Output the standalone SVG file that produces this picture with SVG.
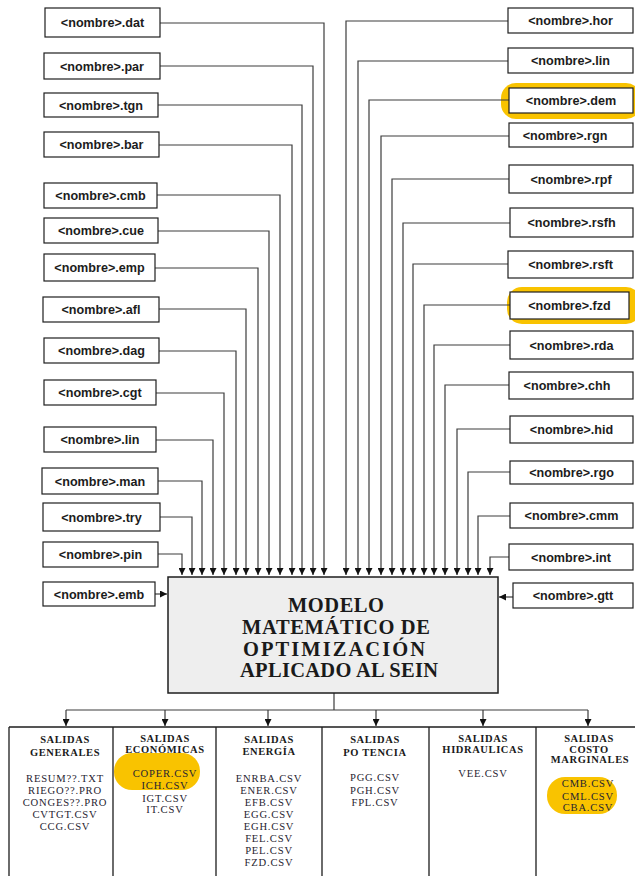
<svg xmlns="http://www.w3.org/2000/svg" width="635" height="876" viewBox="0 0 635 876">
  <style>
    .box { fill: #ffffff; stroke: #1e1e1e; stroke-width: 1.2; }
    .lbl { font-family: "Liberation Sans", Arial, sans-serif; font-weight: bold; font-size: 12.6px; fill: #1c1c1c; text-anchor: middle; }
    .wire { fill: none; stroke: #3c3c3c; stroke-width: 1.2; }
    .hl { fill: #f9c300; }
    .model { fill: #eeeeee; stroke: #1e1e1e; stroke-width: 1.5; }
    .mtxt { font-family: "Liberation Serif", "Times New Roman", serif; font-weight: bold; font-size: 20.5px; fill: #1a1a1a; text-anchor: middle; }
    .frame { fill: none; stroke: #1e1e1e; stroke-width: 1.3; }
    .hd { font-family: "Liberation Serif", "Times New Roman", serif; font-weight: bold; font-size: 10.5px; letter-spacing: 0.6px; fill: #1a1a1a; text-anchor: middle; }
    .it { font-family: "Liberation Serif", "Times New Roman", serif; font-size: 10.6px; letter-spacing: 0.8px; fill: #1f2430; text-anchor: middle; }
  </style>
  <defs>
    <marker id="ah" viewBox="0 0 8 8" refX="8" refY="4" markerWidth="7" markerHeight="7" markerUnits="userSpaceOnUse" orient="auto">
      <path d="M0,0 L8,4 L0,8 Z" fill="#111"/>
    </marker>
  </defs>
  <rect width="635" height="876" fill="#ffffff"/>

  <!-- highlights behind selected files -->
  <rect class="hl" x="501" y="83" width="140" height="36" rx="15"/>
  <rect class="hl" x="507" y="287" width="134" height="37" rx="15"/>
  <rect class="hl" x="114" y="753" width="86" height="37" rx="18"/>
  <rect class="hl" x="547" y="777" width="70" height="37" rx="18"/>

  <!-- connectors -->
  <g id="connectors">
    <path class="wire" marker-end="url(#ah)" d="M160 23 H324 V575"/>
    <path class="wire" marker-end="url(#ah)" d="M160 66 H313 V575"/>
    <path class="wire" marker-end="url(#ah)" d="M158 105 H302 V575"/>
    <path class="wire" marker-end="url(#ah)" d="M159 145 H292 V575"/>
    <path class="wire" marker-end="url(#ah)" d="M157 195 H280 V575"/>
    <path class="wire" marker-end="url(#ah)" d="M158 231 H269 V575"/>
    <path class="wire" marker-end="url(#ah)" d="M155 268 H258 V575"/>
    <path class="wire" marker-end="url(#ah)" d="M159 309 H246 V575"/>
    <path class="wire" marker-end="url(#ah)" d="M159 351 H236 V575"/>
    <path class="wire" marker-end="url(#ah)" d="M156 393 H224 V575"/>
    <path class="wire" marker-end="url(#ah)" d="M156 440 H213 V575"/>
    <path class="wire" marker-end="url(#ah)" d="M158 481 H202 V575"/>
    <path class="wire" marker-end="url(#ah)" d="M160 517 H192 V575"/>
    <path class="wire" marker-end="url(#ah)" d="M158 554 H182 V575"/>
    <path class="wire" marker-end="url(#ah)" d="M155 594 H167"/>

    <path class="wire" marker-end="url(#ah)" d="M508 21 H346 V575"/>
    <path class="wire" marker-end="url(#ah)" d="M508 61 H358 V575"/>
    <path class="wire" marker-end="url(#ah)" d="M509 100 H369 V575"/>
    <path class="wire" marker-end="url(#ah)" d="M509 136 H381 V575"/>
    <path class="wire" marker-end="url(#ah)" d="M509 179 H392 V575"/>
    <path class="wire" marker-end="url(#ah)" d="M510 223 H403 V575"/>
    <path class="wire" marker-end="url(#ah)" d="M508 264 H413 V575"/>
    <path class="wire" marker-end="url(#ah)" d="M510 305 H424 V575"/>
    <path class="wire" marker-end="url(#ah)" d="M510 345 H434 V575"/>
    <path class="wire" marker-end="url(#ah)" d="M509 385 H445 V575"/>
    <path class="wire" marker-end="url(#ah)" d="M510 429 H457 V575"/>
    <path class="wire" marker-end="url(#ah)" d="M510 472 H468 V575"/>
    <path class="wire" marker-end="url(#ah)" d="M510 516 H478 V575"/>
    <path class="wire" marker-end="url(#ah)" d="M509 557 H490 V575"/>
    <path class="wire" marker-end="url(#ah)" d="M513 597 H499"/>

    <path class="wire" d="M334 693 V710 M66 710 H588"/>
    <path class="wire" marker-end="url(#ah)" d="M66 710 V726"/>
    <path class="wire" marker-end="url(#ah)" d="M165 710 V726"/>
    <path class="wire" marker-end="url(#ah)" d="M268 710 V726"/>
    <path class="wire" marker-end="url(#ah)" d="M376 710 V726"/>
    <path class="wire" marker-end="url(#ah)" d="M483 710 V726"/>
    <path class="wire" marker-end="url(#ah)" d="M588 710 V726"/>
  </g>

  <!-- input files, left side -->
  <g id="in-dat"><rect class="box" x="45" y="8" width="115" height="29"/><text class="lbl" x="102.5" y="27">&lt;nombre&gt;.dat</text></g>
  <g id="in-par"><rect class="box" x="44" y="53" width="116" height="26"/><text class="lbl" x="102" y="70.5">&lt;nombre&gt;.par</text></g>
  <g id="in-tgn"><rect class="box" x="44" y="93" width="114" height="24"/><text class="lbl" x="101" y="109.5">&lt;nombre&gt;.tgn</text></g>
  <g id="in-bar"><rect class="box" x="44" y="132" width="115" height="25"/><text class="lbl" x="101.5" y="149">&lt;nombre&gt;.bar</text></g>
  <g id="in-cmb"><rect class="box" x="44" y="183" width="113" height="25"/><text class="lbl" x="100.5" y="200">&lt;nombre&gt;.cmb</text></g>
  <g id="in-cue"><rect class="box" x="44" y="218" width="114" height="25"/><text class="lbl" x="101" y="235">&lt;nombre&gt;.cue</text></g>
  <g id="in-emp"><rect class="box" x="44" y="254" width="111" height="27"/><text class="lbl" x="99.5" y="272">&lt;nombre&gt;.emp</text></g>
  <g id="in-afl"><rect class="box" x="43" y="297" width="116" height="25"/><text class="lbl" x="101" y="314">&lt;nombre&gt;.afl</text></g>
  <g id="in-dag"><rect class="box" x="44" y="338" width="115" height="25"/><text class="lbl" x="101.5" y="355">&lt;nombre&gt;.dag</text></g>
  <g id="in-cgt"><rect class="box" x="44" y="380" width="112" height="25"/><text class="lbl" x="100" y="397">&lt;nombre&gt;.cgt</text></g>
  <g id="in-lin-l"><rect class="box" x="44" y="427" width="112" height="25"/><text class="lbl" x="100" y="444">&lt;nombre&gt;.lin</text></g>
  <g id="in-man"><rect class="box" x="42" y="468" width="116" height="26"/><text class="lbl" x="100" y="485.5">&lt;nombre&gt;.man</text></g>
  <g id="in-try"><rect class="box" x="43" y="503" width="117" height="28"/><text class="lbl" x="101.5" y="521.5">&lt;nombre&gt;.try</text></g>
  <g id="in-pin"><rect class="box" x="43" y="542" width="115" height="25"/><text class="lbl" x="100.5" y="559">&lt;nombre&gt;.pin</text></g>
  <g id="in-emb"><rect class="box" x="43" y="582" width="112" height="24"/><text class="lbl" x="99" y="598.5">&lt;nombre&gt;.emb</text></g>

  <!-- input files, right side -->
  <g id="in-hor"><rect class="box" x="508" y="8" width="125" height="25"/><text class="lbl" x="570.5" y="25">&lt;nombre&gt;.hor</text></g>
  <g id="in-lin-r"><rect class="box" x="508" y="48" width="125" height="25"/><text class="lbl" x="570.5" y="65">&lt;nombre&gt;.lin</text></g>
  <g id="in-dem"><rect class="box" x="509" y="88" width="124" height="25"/><text class="lbl" x="571" y="105">&lt;nombre&gt;.dem</text></g>
  <g id="in-rgn"><rect class="box" x="509" y="123" width="124" height="24"/><text class="lbl" x="565" y="139.5">&lt;nombre&gt;.rgn</text></g>
  <g id="in-rpf"><rect class="box" x="509" y="165" width="124" height="28"/><text class="lbl" x="571" y="183.5">&lt;nombre&gt;.rpf</text></g>
  <g id="in-rsfh"><rect class="box" x="510" y="208" width="123" height="29"/><text class="lbl" x="571.5" y="227">&lt;nombre&gt;.rsfh</text></g>
  <g id="in-rsft"><rect class="box" x="508" y="251" width="125" height="27"/><text class="lbl" x="570.5" y="269">&lt;nombre&gt;.rsft</text></g>
  <g id="in-fzd"><rect class="box" x="510" y="292" width="119" height="27"/><text class="lbl" x="569.5" y="310">&lt;nombre&gt;.fzd</text></g>
  <g id="in-rda"><rect class="box" x="510" y="331" width="123" height="28"/><text class="lbl" x="571.5" y="349.5">&lt;nombre&gt;.rda</text></g>
  <g id="in-chh"><rect class="box" x="509" y="372" width="124" height="27"/><text class="lbl" x="567" y="390">&lt;nombre&gt;.chh</text></g>
  <g id="in-hid"><rect class="box" x="510" y="416" width="123" height="27"/><text class="lbl" x="571.5" y="434">&lt;nombre&gt;.hid</text></g>
  <g id="in-rgo"><rect class="box" x="510" y="461" width="123" height="23"/><text class="lbl" x="571.5" y="477">&lt;nombre&gt;.rgo</text></g>
  <g id="in-cmm"><rect class="box" x="510" y="503" width="123" height="25"/><text class="lbl" x="571.5" y="520">&lt;nombre&gt;.cmm</text></g>
  <g id="in-int"><rect class="box" x="509" y="544" width="124" height="26"/><text class="lbl" x="571" y="561.5">&lt;nombre&gt;.int</text></g>
  <g id="in-gtt"><rect class="box" x="513" y="583" width="120" height="25"/><text class="lbl" x="573" y="600">&lt;nombre&gt;.gtt</text></g>

  <!-- central model -->
  <g id="modelo">
    <rect class="model" x="168" y="577" width="330" height="116"/>
    <text class="mtxt" x="336" y="612" textLength="96" lengthAdjust="spacing">MODELO</text>
    <text class="mtxt" x="336" y="634" textLength="188" lengthAdjust="spacing">MATEMÁTICO DE</text>
    <text class="mtxt" x="334" y="656" textLength="182" lengthAdjust="spacing">OPTIMIZACIÓN</text>
    <text class="mtxt" x="339" y="677" textLength="198" lengthAdjust="spacing">APLICADO AL SEIN</text>
  </g>

  <!-- output groups -->
  <g id="salidas-frame">
    <path class="frame" d="M9 727 H635 M9 727 V876 M113 727 V876 M216 727 V876 M322 727 V876 M429 727 V876 M536 727 V876"/>
  </g>
  <g id="out-generales">
    <text class="hd" x="65" y="743">SALIDAS</text>
    <text class="hd" x="65" y="756">GENERALES</text>
    <text class="it" x="65" y="782">RESUM??.TXT</text>
    <text class="it" x="65" y="794">RIEGO??.PRO</text>
    <text class="it" x="65" y="806">CONGES??.PRO</text>
    <text class="it" x="65" y="818">CVTGT.CSV</text>
    <text class="it" x="65" y="830">CCG.CSV</text>
  </g>
  <g id="out-economicas">
    <text class="hd" x="165" y="742">SALIDAS</text>
    <text class="hd" x="165" y="753">ECONÓMICAS</text>
    <text class="it" x="165" y="777">COPER.CSV</text>
    <text class="it" x="165" y="789">ICH.CSV</text>
    <text class="it" x="165" y="801.5">IGT.CSV</text>
    <text class="it" x="165" y="813">IT.CSV</text>
  </g>
  <g id="out-energia">
    <text class="hd" x="269" y="743">SALIDAS</text>
    <text class="hd" x="269" y="755">ENERGÍA</text>
    <text class="it" x="269" y="782">ENRBA.CSV</text>
    <text class="it" x="269" y="794">ENER.CSV</text>
    <text class="it" x="269" y="806">EFB.CSV</text>
    <text class="it" x="269" y="818">EGG.CSV</text>
    <text class="it" x="269" y="830">EGH.CSV</text>
    <text class="it" x="269" y="842">FEL.CSV</text>
    <text class="it" x="269" y="854">PEL.CSV</text>
    <text class="it" x="269" y="866">FZD.CSV</text>
  </g>
  <g id="out-potencia">
    <text class="hd" x="375" y="743">SALIDAS</text>
    <text class="hd" x="375" y="756">PO TENCIA</text>
    <text class="it" x="375" y="781">PGG.CSV</text>
    <text class="it" x="375" y="794">PGH.CSV</text>
    <text class="it" x="375" y="806">FPL.CSV</text>
  </g>
  <g id="out-hidraulicas">
    <text class="hd" x="483" y="742">SALIDAS</text>
    <text class="hd" x="483" y="753">HIDRAULICAS</text>
    <text class="it" x="483" y="777">VEE.CSV</text>
  </g>
  <g id="out-costo">
    <text class="hd" x="589" y="742">SALIDAS</text>
    <text class="hd" x="589" y="752.5">COSTO</text>
    <text class="hd" x="590" y="763">MARGINALES</text>
    <text class="it" x="588" y="787">CMB.CSV</text>
    <text class="it" x="588" y="799.5">CML.CSV</text>
    <text class="it" x="588" y="811">CBA.CSV</text>
  </g>
</svg>
